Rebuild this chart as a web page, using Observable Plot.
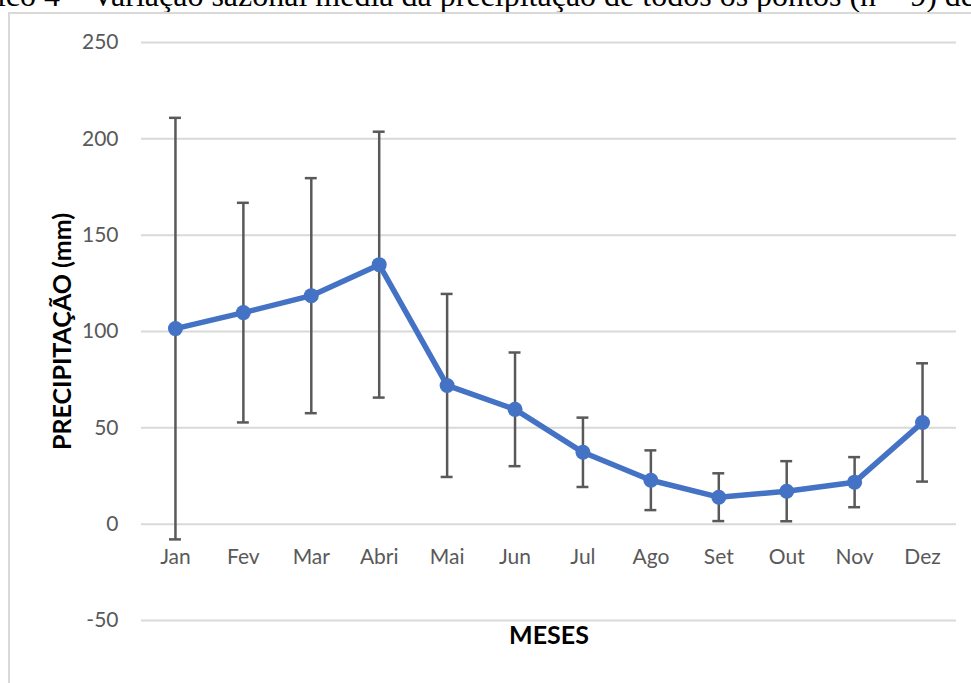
<!DOCTYPE html>
<html>
<head>
<meta charset="utf-8">
<script src="https://cdn.jsdelivr.net/npm/d3@7"></script>
<script src="https://cdn.jsdelivr.net/npm/@observablehq/plot@0.6"></script>
<style>
  html, body { margin: 0; padding: 0; background: #fff; overflow: hidden; }
  #wrap { position: relative; width: 971px; height: 683px; overflow: hidden; }
  #caption {
    position: absolute; right: -4px; top: -21px; white-space: nowrap;
    font-family: "Liberation Serif", "Times New Roman", serif;
    font-size: 32px; line-height: 32px; color: #000;
  }
  #frame {
    position: absolute; left: 8px; top: 12px; width: 1000px; height: 720px;
    border: 2px solid #d9d9d9; box-sizing: border-box; background: #fff;
  }
  #chart { position: absolute; left: 0; top: 0; }
</style>
</head>
<body>
<div id="wrap">
  <div id="caption">Gráfico 4 – Variação sazonal média da precipitação de todos os pontos (n = 9) de</div>
  <div id="frame"></div>
  <div id="chart"></div>
</div>
<script>
// Monthly mean precipitation (mm) and its standard deviation
const months = ["Jan", "Fev", "Mar", "Abri", "Mai", "Jun", "Jul", "Ago", "Set", "Out", "Nov", "Dez"];
const meanRain = [101.5, 109.8, 118.6, 134.7, 72.0, 59.6, 37.3, 22.8, 14.0, 17.1, 21.8, 52.8];
const sdRain = [109.4, 57.0, 61.0, 69.0, 47.5, 29.5, 18.0, 15.5, 12.4, 15.6, 13.0, 30.7];
const yTicks = [-50, 0, 50, 100, 150, 200, 250];

const rows = months.map((m, i) => ({
  month: m,
  mean: meanRain[i],
  lo: meanRain[i] - sdRain[i],
  hi: meanRain[i] + sdRain[i]
}));

const font = "Lato, 'Open Sans', sans-serif";

const chart = Plot.plot({
  width: 971,
  height: 683,
  marginLeft: 141,
  marginRight: 15,
  marginTop: 42,
  marginBottom: 63,
  style: { fontFamily: font, fontSize: "21px", color: "#595959", background: "transparent" },
  x: { type: "band", domain: months, padding: 0, round: false, axis: null },
  y: { domain: [-50, 250], ticks: yTicks, tickSize: 0, tickPadding: 23, label: null },
  marks: [
    Plot.ruleY(yTicks, { stroke: "#d9d9d9", strokeWidth: 2 }),
    Plot.axisY({ ticks: yTicks, tickSize: 0, tickPadding: 23, tickFormat: d => String(d), fill: "#595959", label: null }),
    // month labels sit under the zero line
    Plot.text(months, { x: d => d, y: () => 0, dy: 33, fill: "#595959", fontSize: 21 }),
    // error bars (± standard deviation)
    Plot.ruleX(rows, { x: "month", y1: "lo", y2: "hi", stroke: "#595959", strokeWidth: 2.5 }),
    Plot.tickY(rows, { x: "month", y: "hi", stroke: "#595959", strokeWidth: 2.5, insetLeft: 28, insetRight: 28 }),
    Plot.tickY(rows, { x: "month", y: "lo", stroke: "#595959", strokeWidth: 2.5, insetLeft: 28, insetRight: 28 }),
    // mean line and markers
    Plot.line(rows, { x: "month", y: "mean", stroke: "#4472c4", strokeWidth: 5.5, strokeLinejoin: "round" }),
    Plot.dot(rows, { x: "month", y: "mean", r: 7.5, fill: "#4472c4", stroke: "none" }),
    // axis titles
    Plot.text(["PRECIPITAÇÃO (mm)"], { frameAnchor: "left", textAnchor: "middle", dx: -79, rotate: -90, fill: "#000", fontWeight: "bold", fontSize: 25 }),
    Plot.text(["MESES"], { frameAnchor: "bottom", dy: 23, fill: "#000", fontWeight: "bold", fontSize: 25 })
  ]
});

document.getElementById("chart").appendChild(chart);
</script>
</body>
</html>
